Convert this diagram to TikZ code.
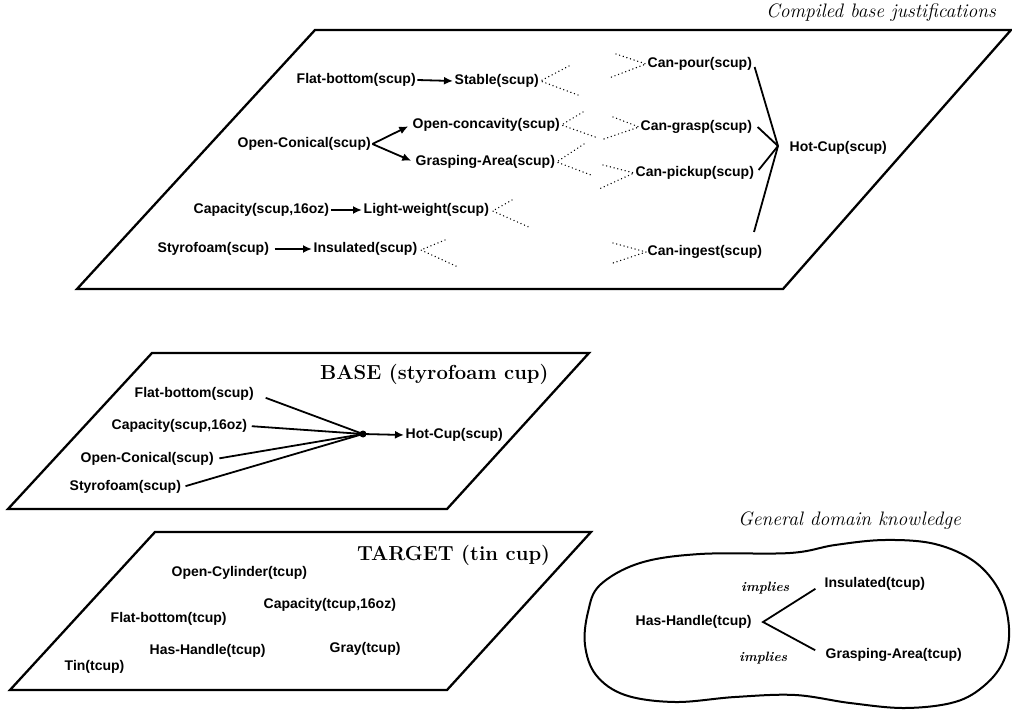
\documentclass[tikz,border=0pt]{standalone}
\usepackage{fontspec}
\setsansfont{Liberation Sans}
\usetikzlibrary{arrows.meta,calc}
\begin{document}
\begin{tikzpicture}[x=1pt,y=-1pt,
  lbl/.style={font=\sffamily\bfseries\fontsize{14}{16}\selectfont, inner sep=1.5pt, anchor=west},
  panel/.style={line width=2.3pt, line join=miter},
  conn/.style={line width=1.8pt},
  arr/.style={line width=1.8pt, -{Latex[length=9pt,width=8pt]}},
  dots/.style={line width=1.5pt, line cap=round, dash pattern=on 0.01pt off 3.8pt},
  head/.style={font=\bfseries\fontsize{20.3}{24}\selectfont, anchor=base west, inner sep=0},
  ital/.style={font=\itshape\fontsize{19.5}{22}\selectfont, inner sep=0},
  small/.style={font=\bfseries\itshape\fontsize{13.5}{16}\selectfont, inner sep=0, anchor=base west}
]
\useasboundingbox (0,0) rectangle (1012,711);

% ---------------- top panel ----------------
\node[ital, anchor=base east] (tcomp) at (996,18) {Compiled base justifications};
\draw[panel] (315,30) -- (1011,30) -- (783,289) -- (77,289) -- cycle;

\node[lbl] (fb)  at (295,80)  {Flat-bottom(scup)};
\node[lbl] (st)  at (453,81)  {Stable(scup)};
\node[lbl] (oc)  at (236,144) {Open-Conical(scup)};
\node[lbl] (ocv) at (411,125) {Open-concavity(scup)};
\node[lbl] (ga)  at (414,162) {Grasping-Area(scup)};
\node[lbl] (cap) at (192,210) {Capacity(scup,16oz)};
\node[lbl] (lw)  at (362,210) {Light-weight(scup)};
\node[lbl] (sty) at (156,249) {Styrofoam(scup)};
\node[lbl] (ins) at (312,249) {Insulated(scup)};
\node[lbl] (cpour) at (646,64)  {Can-pour(scup)};
\node[lbl] (cgrasp) at (639,127) {Can-grasp(scup)};
\node[lbl] (cpick) at (634,173) {Can-pickup(scup)};
\node[lbl] (cing) at (646,252) {Can-ingest(scup)};
\node[lbl] (hot) at (788,148) {Hot-Cup(scup)};

\draw[arr] (fb.east) -- (st.west);
\draw[arr, shorten >=3pt] (oc.east) -- (ocv.west);
\draw[arr, shorten >=3pt] (oc.east) -- (ga.west);
\draw[arr] (cap.east) -- (lw.west);
\draw[arr, shorten <=4pt] (sty.east) -- (ins.west);

% dotted fan-outs
\coordinate (st1) at (569,66);  \coordinate (st2) at (578,95);
\coordinate (ov1) at (583,112); \coordinate (ov2) at (598,138);
\coordinate (ga1) at (584,144); \coordinate (ga2) at (591,175);
\coordinate (lw1) at (512,200); \coordinate (lw2) at (531,228);
\coordinate (in1) at (445,240); \coordinate (in2) at (458,267);
\draw[dots] (st1) -- (st.east) -- (st2);
\draw[dots] (ov1) -- (ocv.east) -- (ov2);
\draw[dots] (ga1) -- (ga.east) -- (ga2);
\draw[dots] (lw1) -- ($(lw.east)+(2,1)$) -- (lw2);
\draw[dots] (in1) -- ($(ins.east)+(2,1)$) -- (in2);

\coordinate (cp1) at (616,54);  \coordinate (cp2) at (609,78);
\coordinate (cg1) at (613,117); \coordinate (cg2) at (601,140);
\coordinate (ck1) at (603,165); \coordinate (ck2) at (599,189);
\coordinate (ci1) at (613,243); \coordinate (ci2) at (613,263);
\draw[dots] (cp1) -- (cpour.west) -- (cp2);
\draw[dots] (cg1) -- (cgrasp.west) -- (cg2);
\draw[dots] (ck1) -- (cpick.west) -- (ck2);
\draw[dots] (ci1) -- (cing.west) -- (ci2);

% solid convergence to Hot-Cup
\coordinate (hcj) at (778,146);
\coordinate (hc4) at (754,232);
\draw[conn] ($(cpour.east)+(1,3)$) -- (hcj);
\draw[conn] ($(cgrasp.east)+(4,0)$) -- (hcj);
\draw[conn] ($(cpick.east)+(3,-3)$) -- (hcj);
\draw[conn] (hc4) -- (hcj);

% ---------------- BASE panel ----------------
\draw[panel] (152,353) -- (589,353) -- (447,509) -- (8,509) -- cycle;
\node[head] (bhead) at (320,379) {BASE (styrofoam cup)};
\node[lbl] (bfb)  at (133,394) {Flat-bottom(scup)};
\node[lbl] (bcap) at (110,426) {Capacity(scup,16oz)};
\node[lbl] (boc)  at (79,459)  {Open-Conical(scup)};
\node[lbl] (bsty) at (68,487)  {Styrofoam(scup)};
\node[lbl] (bhot) at (404,435) {Hot-Cup(scup)};
\node[circle, fill, inner sep=0, minimum size=7pt] (bdot) at (363,434) {};
\draw[conn, shorten <=11pt] (bfb.east) -- (bdot.center);
\draw[conn, shorten <=3pt] (bcap.east) -- (bdot.center);
\draw[conn, shorten <=4pt] (boc.east) -- (bdot.center);
\draw[conn, shorten <=3pt] (bsty.east) -- (bdot.center);
\draw[arr] (bdot.center) -- (bhot.west);

% ---------------- TARGET panel ----------------
\draw[panel] (155,532) -- (591,532) -- (447,690) -- (10,690) -- cycle;
\node[head] (thead) at (357,560) {TARGET (tin cup)};
\node[lbl] (toc)  at (170,573) {Open-Cylinder(tcup)};
\node[lbl] (tcap) at (262,605) {Capacity(tcup,16oz)};
\node[lbl] (tfb)  at (109,619) {Flat-bottom(tcup)};
\node[lbl] (thh)  at (148,651) {Has-Handle(tcup)};
\node[lbl] (tgr)  at (328,649) {Gray(tcup)};
\node[lbl] (ttin) at (63,667)  {Tin(tcup)};

% ---------------- General domain knowledge ----------------
\node[ital, anchor=base west] (gdk) at (738,525) {General domain knowledge};
\draw[line width=2pt] plot[smooth cycle, tension=0.6] coordinates {
  (600,585) (640,563) (700,554) (790,553) (835,545) (885,540) (935,544)
  (975,562) (1000,592) (1009,628) (1004,660) (985,685) (955,702) (905,708)
  (850,703) (795,695) (735,697) (675,702) (625,695) (596,675) (585,645) (588,612)};
\node[lbl] (ghh) at (634,622) {Has-Handle(tcup)};
\node[lbl] (gins) at (823,584) {Insulated(tcup)};
\node[lbl] (gga) at (824,655) {Grasping-Area(tcup)};
\node[small] (imp1) at (741,591) {implies};
\node[small] (imp2) at (739,661) {implies};
\coordinate (gapex) at (763,622);
\draw[conn, shorten <=9pt, shorten >=10pt] (gins.west) -- (gapex) -- (gga.west);
\end{tikzpicture}
\end{document}
